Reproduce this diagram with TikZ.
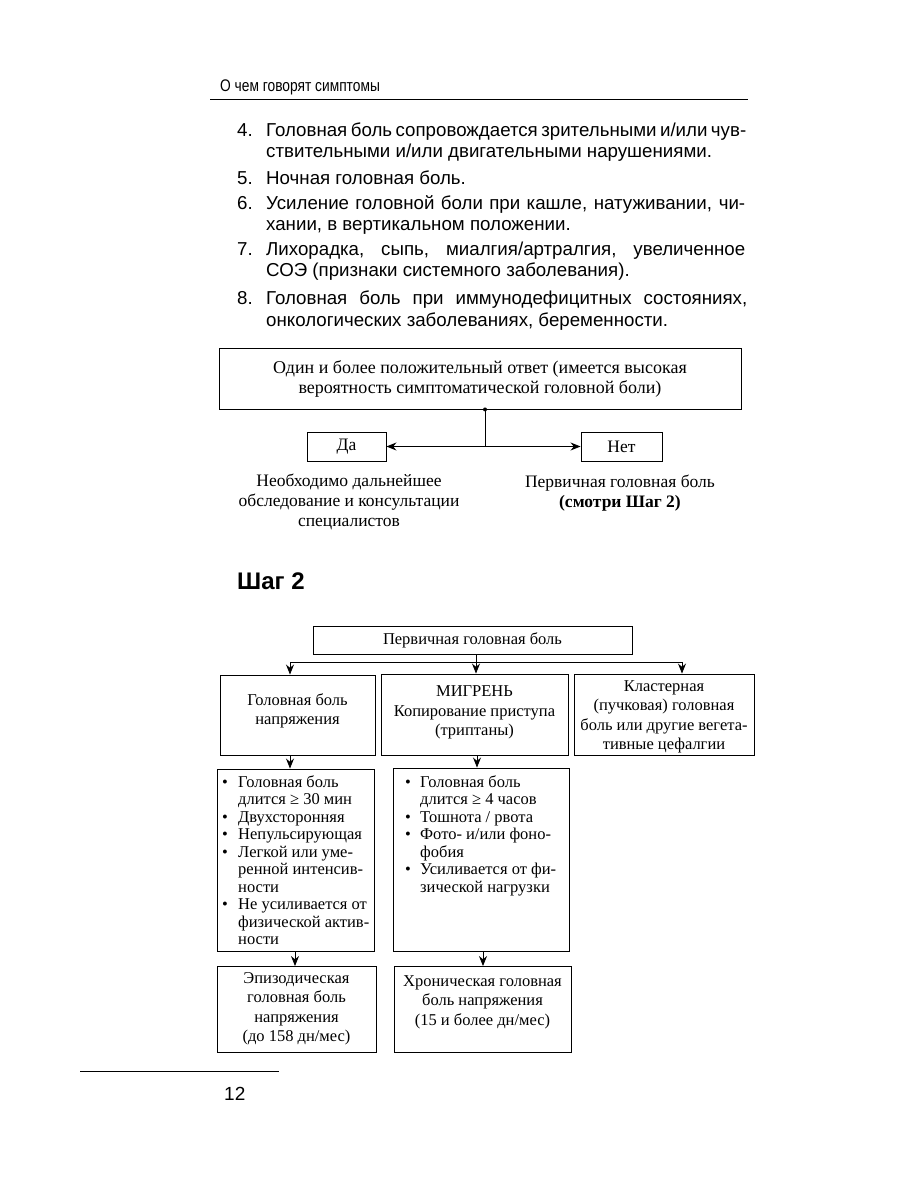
\documentclass[tikz,border=0pt]{standalone}
\usepackage{fontspec}
\setmainfont{Liberation Serif}
\newfontfamily\sansf{Liberation Sans}
\newfontfamily\headf[FakeStretch=0.82]{Liberation Sans}
\usetikzlibrary{arrows.meta}
\begin{document}
\begin{tikzpicture}[x=1pt,y=-1pt,
  bxa/.style={draw, line width=0.9pt, inner sep=0pt, align=center, font=\fontsize{17.5}{20}\selectfont},
  bx/.style={draw, line width=0.9pt, inner sep=0pt, align=center, font=\fontsize{16.5}{20}\selectfont},
  txta/.style={inner sep=0pt, align=center, font=\fontsize{17.5}{20}\selectfont},
  txt/.style={inner sep=0pt, align=center, font=\fontsize{16.5}{19.5}\selectfont},
  blist/.style={inner sep=0pt, align=left, anchor=north west, font=\fontsize{16.5}{17.5}\selectfont},
  arr/.style={-{Stealth[length=10pt,width=8pt]}, line width=0.9pt},
  ln/.style={line width=0.9pt},
  li/.style={anchor=base west, inner sep=0pt, font=\sansf\fontsize{18.7}{21}\selectfont},
]
\useasboundingbox (0,0) rectangle (900,1200);
\fill[white] (0,0) rectangle (900,1200);

% header
\node[anchor=base west, inner sep=0pt, font=\headf\fontsize{16.8}{18}\selectfont] (head) at (220,91) {О чем говорят симптомы};
\draw[line width=0.8pt] (210,99) -- (748,99);

% numbered list
\node[li] (n4) at (237,136) {4.};
\node[li] (l4a) at (266,136) {\makebox[479pt][s]{Головная боль сопровождается зрительными и/или чув-}};
\node[li] (l4b) at (266,157) {ствительными и/или двигательными нарушениями.};
\node[li] (n5) at (237,184) {5.};
\node[li] (l5a) at (266,184) {Ночная головная боль.};
\node[li] (n6) at (237,209) {6.};
\node[li] (l6a) at (266,209) {\makebox[479pt][s]{Усиление головной боли при кашле, натуживании, чи-}};
\node[li] (l6b) at (266,230) {хании, в вертикальном положении.};
\node[li] (n7) at (237,255) {7.};
\node[li] (l7a) at (266,255) {\makebox[479pt][s]{Лихорадка, сыпь, миалгия/артралгия, увеличенное}};
\node[li] (l7b) at (266,276) {СОЭ (признаки системного заболевания).};
\node[li] (n8) at (237,304) {8.};
\node[li] (l8a) at (266,304) {\makebox[481pt][s]{Головная боль при иммунодефицитных состояниях,}};
\node[li] (l8b) at (266,326) {онкологических заболеваниях, беременности.};

% step 1 diagram
\node[bxa, font=\fontsize{18}{20}\selectfont, minimum width=522pt, minimum height=61pt] (top) at (480,378.5)
  {Один и более положительный ответ (имеется высокая\\вероятность симптоматической головной боли)};
\node[bxa, minimum width=79pt, minimum height=29pt] (da) at (346.5,446.5) {Да};
\node[bxa, minimum width=81pt, minimum height=29pt] (net) at (621.5,446.5) {Нет};
\coordinate (j) at (485,446.5);
\draw[ln] (top.south -| j) -- (j);
\fill (top.south -| j) circle (2pt);
\draw[arr] (j) -- (da.east);
\draw[arr] (j) -- (net.west);
\node[txta] (dat) at (349,502) {Необходимо дальнейшее\\обследование и консультации\\специалистов};
\node[txta] (nett) at (620,493) {Первичная головная боль\\\textbf{(смотри Шаг 2)}};

% step 2 title
\node[anchor=base west, inner sep=0pt, font=\sansf\bfseries\fontsize{24}{28}\selectfont] (step2) at (237,589) {Шаг 2};

% step 2 diagram
\node[bx, minimum width=319pt, minimum height=28pt] (prim) at (472.5,640) {Первичная головная боль};
\node[bx, minimum width=155pt, minimum height=80pt] (ten) at (297.5,715) {};
\node[txt] (tent) at (297.5,711) {Головная боль\\напряжения};
\node[bx, minimum width=187pt, minimum height=81pt] (mig) at (474.5,714.5) {};
\node[txt] (migt) at (474.5,712.5) {МИГРЕНЬ\\Копирование приступа\\(триптаны)};
\node[bx, minimum width=180pt, minimum height=81pt] (clu) at (664,714.5) {};
\node[txt] (clut) at (664,717) {Кластерная\\(пучковая) головная\\боль или другие вегета-\\тивные цефалгии};
\coordinate (c0) at (476,662);
\coordinate (c1) at (290,662);
\coordinate (c3) at (682,662);
\draw[ln] (prim.south -| c0) -- (c0);
\draw[ln] (c1) -- (c3);
\draw[arr] (c1) -- (c1 |- ten.north);
\draw[arr] (c0) -- (c0 |- mig.north);
\draw[arr] (c3) -- (c3 |- clu.north);

% bullet boxes
\node[bx, minimum width=157pt, minimum height=182pt] (tl) at (295.5,860) {};
\node[bx, minimum width=176pt, minimum height=183pt] (ml) at (481,859.5) {};
\node[blist] (tlt) at (222,775) {%
\makebox[16pt][l]{•}Головная боль\\
\hspace*{16pt}длится ≥ 30 мин\\
\makebox[16pt][l]{•}Двухсторонняя\\
\makebox[16pt][l]{•}Непульсирующая\\
\makebox[16pt][l]{•}Легкой или уме-\\
\hspace*{16pt}ренной интенсив-\\
\hspace*{16pt}ности\\
\makebox[16pt][l]{•}Не усиливается от\\
\hspace*{16pt}физической актив-\\
\hspace*{16pt}ности};
\node[blist] (mlt) at (405,775) {%
\makebox[15pt][l]{•}Головная боль\\
\hspace*{15pt}длится ≥ 4 часов\\
\makebox[15pt][l]{•}Тошнота / рвота\\
\makebox[15pt][l]{•}Фото- и/или фоно-\\
\hspace*{15pt}фобия\\
\makebox[15pt][l]{•}Усиливается от фи-\\
\hspace*{15pt}зической нагрузки};
\coordinate (a1) at (290,0);
\coordinate (a2) at (477,0);
\draw[arr] (ten.south -| a1) -- (tl.north -| a1);
\draw[arr] (mig.south -| a2) -- (ml.north -| a2);

% bottom boxes
\node[bx, minimum width=159pt, minimum height=86pt] (epi) at (296.5,1009.5) {};
\node[txt] (epit) at (296.5,1009) {Эпизодическая\\головная боль\\напряжения\\(до 158 дн/мес)};
\node[bx, minimum width=177pt, minimum height=86pt] (chr) at (482.5,1009.5) {};
\node[txt] (chrt) at (482.5,1002) {Хроническая головная\\боль напряжения\\(15 и более дн/мес)};
\coordinate (a3) at (295,0);
\coordinate (a4) at (483,0);
\draw[arr] (tl.south -| a3) -- (epi.north -| a3);
\draw[arr] (ml.south -| a4) -- (chr.north -| a4);

% footer
\draw[line width=0.8pt] (80,1071) -- (279,1071);
\node[anchor=base west, inner sep=0pt, font=\sansf\fontsize{19}{24}\selectfont] (pg) at (224,1100) {12};
\end{tikzpicture}
\end{document}
